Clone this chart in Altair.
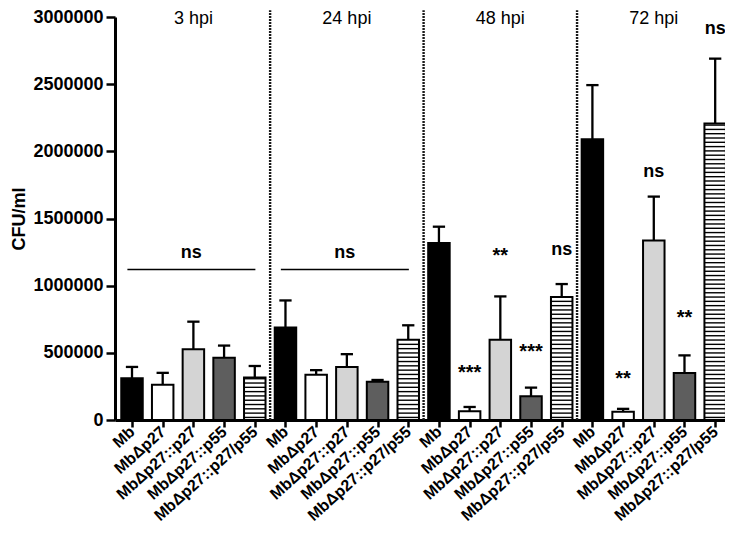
import json
import numpy as np
import pandas as pd
import altair as alt

# ---------------- data ----------------
strains = ["Mb", "MbΔp27", "MbΔp27::p27", "MbΔp27::p55", "MbΔp27::p27/p55"]
timepoints = ["3 hpi", "24 hpi", "48 hpi", "72 hpi"]
fills = ["#000000", "#ffffff", "#d4d4d4", "#5e5e5e", "#ffffff"]
hatched = [False, False, False, False, True]

mean_3hpi = [310000, 263000, 527000, 463000, 317000]
mean_24hpi = [688000, 337000, 395000, 285000, 598000]
mean_48hpi = [1317000, 66000, 598000, 176000, 915000]
mean_72hpi = [2090000, 61000, 1337000, 349000, 2207000]

upper_3hpi = [395000, 351000, 732000, 554000, 402000]
upper_24hpi = [890000, 371000, 490000, 298000, 705000]
upper_48hpi = [1439000, 97000, 920000, 241000, 1012000]
upper_72hpi = [2493000, 83000, 1663000, 481000, 2690000]

# significance: (timepoint index, strain index, label, y-centre)
sig_tp = [2, 2, 2, 2, 3, 3, 3, 3]
sig_strain = [1, 2, 3, 4, 1, 2, 3, 4]
sig_text = ["***", "**", "***", "ns", "**", "ns", "**", "ns"]
sig_y = [390000, 1258000, 541000, 1268000, 346000, 1844000, 797000, 2907000]

# group-wide "ns" brackets
bracket_tp = [0, 1]
bracket_y = 1120000
bracket_text_y = 1244000

y_ticks = [0, 500000, 1000000, 1500000, 2000000, 2500000, 3000000]

# ---------------- tables ----------------
means = [mean_3hpi, mean_24hpi, mean_48hpi, mean_72hpi]
uppers = [upper_3hpi, upper_24hpi, upper_48hpi, upper_72hpi]
HALF = 0.35
rows = []
for g, tp in enumerate(timepoints):
    for i, s in enumerate(strains):
        pos = g * 5 + i
        rows.append(dict(tp=tp, strain=s, pos=pos, lo=pos - HALF, hi=pos + HALF,
                         clo=pos - 0.2, chi=pos + 0.2, zero=0,
                         mean=means[g][i], upper=uppers[g][i], fill=fills[i]))
df = pd.DataFrame(rows)

stripe_rows = []
STEP = 32000
for r in rows:
    if hatched[strains.index(r["strain"])]:
        for yv in np.arange(STEP * 0.6, r["mean"] - STEP * 0.3, STEP):
            stripe_rows.append(dict(lo=r["lo"], hi=r["hi"], y=float(yv)))
df_stripes = pd.DataFrame(stripe_rows)

df_sep = pd.DataFrame({"x": [4.5, 9.5, 14.5], "y0": [0] * 3, "y1": [3050000] * 3})
df_titles = pd.DataFrame({"x": [g * 5 + 2 for g in range(4)], "y": [2985000] * 4, "t": timepoints})
df_br = pd.DataFrame({"x": [g * 5 - 0.15 for g in bracket_tp], "x2": [g * 5 + 4.02 for g in bracket_tp],
                      "y": [bracket_y] * len(bracket_tp), "xm": [g * 5 + 1.93 for g in bracket_tp],
                      "ty": [bracket_text_y] * len(bracket_tp), "t": ["ns"] * len(bracket_tp)})
df_sig = pd.DataFrame({"x": [tp * 5 + s for tp, s in zip(sig_tp, sig_strain)], "y": sig_y, "t": sig_text})
df_ns = df_sig[df_sig.t == "ns"]
df_star = df_sig[df_sig.t != "ns"]

# ---------------- scales / axes ----------------
FONT = "Liberation Sans"
xscale = alt.Scale(domain=[-0.554, 19.32], nice=False, zero=False)
yscale = alt.Scale(domain=[0, 3000000], nice=False)
label_expr = json.dumps(strains) + "[datum.value % 5]"
xaxis = alt.Axis(values=list(range(20)), labelExpr=label_expr, title=None, grid=False,
                 labelAngle=318, labelAlign="right", labelBaseline="middle",
                 labelFont=FONT, labelFontWeight="bold", labelFontSize=16, labelColor="black",
                 labelPadding=2, labelOverlap=False, labelFlush=False, labelBound=False,
                 tickSize=7, tickWidth=2.5, tickColor="black",
                 domainWidth=3, domainColor="black")
yaxis = alt.Axis(values=y_ticks, format="d", title="CFU/ml", grid=False,
                 labelFont=FONT, labelFontWeight="bold", labelFontSize=18, labelColor="black",
                 labelPadding=3, tickSize=9, tickWidth=2.5, tickColor="black",
                 domainWidth=3, domainColor="black",
                 titleFont=FONT, titleFontWeight="bold", titleFontSize=18, titleColor="black",
                 titlePadding=4)


def X(field):
    return alt.X(field, scale=xscale, axis=xaxis)


def Y(field):
    return alt.Y(field, scale=yscale, axis=yaxis)


base = alt.Chart(df)
bars = base.mark_bar(stroke="black", strokeWidth=2).encode(
    x=X("lo:Q"), x2="hi:Q", y=Y("mean:Q"), y2="zero:Q",
    fill=alt.Fill("fill:N", scale=None),
)
stripes = alt.Chart(df_stripes).mark_rule(color="black", strokeWidth=1.4).encode(
    x=X("lo:Q"), x2="hi:Q", y=Y("y:Q"))
err = base.mark_rule(color="black", strokeWidth=2.3).encode(
    x=X("pos:Q"), y=Y("mean:Q"), y2="upper:Q")
caps = base.mark_rule(color="black", strokeWidth=2.3).encode(
    x=X("clo:Q"), x2="chi:Q", y=Y("upper:Q"))
seps = alt.Chart(df_sep).mark_rule(color="#1a1a1a", strokeWidth=2.4, strokeDash=[2, 1]).encode(
    x=X("x:Q"), y=Y("y0:Q"), y2="y1:Q")
titles = alt.Chart(df_titles).mark_text(font=FONT, fontSize=18, color="black", baseline="middle").encode(
    x=X("x:Q"), y=Y("y:Q"), text="t:N")
br_lines = alt.Chart(df_br).mark_rule(color="black", strokeWidth=1.5).encode(
    x=X("x:Q"), x2="x2:Q", y=Y("y:Q"))
br_text = alt.Chart(df_br).mark_text(font=FONT, fontSize=18, fontWeight="bold", color="black",
                                     baseline="middle").encode(
    x=X("xm:Q"), y=Y("ty:Q"), text="t:N")
ns_text = alt.Chart(df_ns).mark_text(font=FONT, fontSize=18, fontWeight="bold", color="black",
                                     baseline="middle").encode(
    x=X("x:Q"), y=Y("y:Q"), text="t:N")
star_text = alt.Chart(df_star).mark_text(font=FONT, fontSize=20, fontWeight="bold", color="black",
                                         baseline="middle", dy=5).encode(
    x=X("x:Q"), y=Y("y:Q"), text="t:N")

chart = alt.layer(bars, stripes, err, caps, seps, titles, br_lines, br_text, ns_text, star_text).properties(
    width=610, height=403,
    autosize=alt.AutoSizeParams(type="none"),
    padding={"left": 107, "top": 9, "right": 0, "bottom": 105},
).configure_view(stroke=None).configure_axisX(labelOverlap=False)

chart.save("out.html", embed_options={"renderer": "svg", "actions": False})
